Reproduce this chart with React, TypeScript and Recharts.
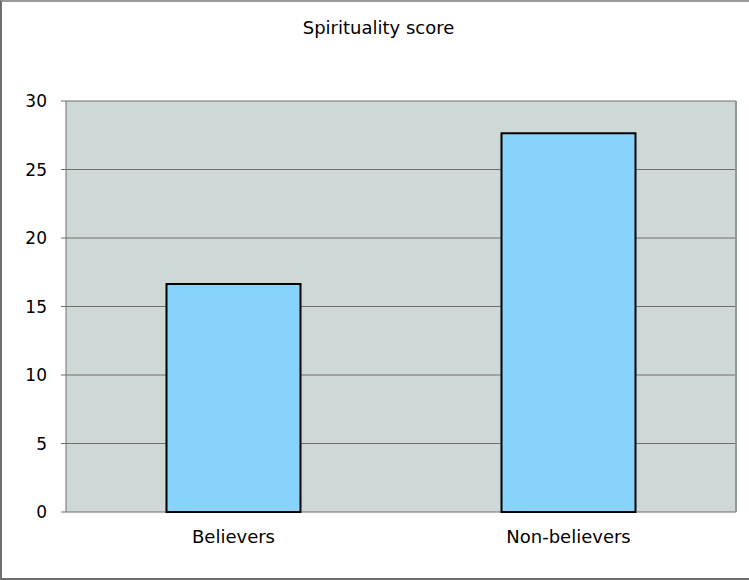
import React from "react";
import { Bar, BarChart, CartesianGrid, XAxis, YAxis } from "recharts";

const categories = ["Believers", "Non-believers"];
const scores = [16.65, 27.65];
const yTicks = [0, 5, 10, 15, 20, 25, 30];

const data = categories.map((name, i) => ({ name, score: scores[i] }));
const edgeTicks = categories.map((_, i) => i).concat(categories.length);

const font = "'DejaVu Sans', Verdana, sans-serif";

export default function App() {
  return (
    <div
      style={{
        position: "absolute",
        left: 0,
        top: 0,
        width: 749,
        height: 580,
        background: "#fff",
        fontFamily: font,
      }}
    >
      <div
        style={{
          position: "absolute",
          inset: 0,
          borderLeft: "2px solid #6f6f6f",
          borderBottom: "2px solid #6f6f6f",
          borderTop: "2px solid #9a9a9a",
          boxSizing: "border-box",
          pointerEvents: "none",
        }}
      />
      <div
        style={{
          position: "absolute",
          top: 17,
          left: 0,
          width: 757,
          textAlign: "center",
          fontSize: 18,
          color: "#000",
        }}
      >
        Spirituality score
      </div>
      <BarChart
        width={749}
        height={580}
        data={data}
        margin={{ top: 101, right: 13, bottom: 28, left: 16 }}
        barCategoryGap="30%"
      >
        <CartesianGrid
          xAxisId="cat"
          vertical={false}
          stroke="#6e6e6e"
          strokeWidth={1}
          fill="#ced8d7"
          fillOpacity={1}
        />
        <CartesianGrid
          xAxisId="cat"
          horizontal={false}
          stroke="#8f9999"
          strokeWidth={2}
          verticalCoordinatesGenerator={({ offset }: any) => [offset.left + offset.width]}
        />
        <XAxis
          xAxisId="edges"
          type="number"
          domain={[0, categories.length]}
          ticks={edgeTicks}
          tick={false}
          height={0}
          tickSize={5}
          stroke="#6e6e6e"
          tickLine={{ stroke: "#6e6e6e" }}
          allowDataOverflow
        />
        <XAxis
          xAxisId="cat"
          dataKey="name"
          height={40}
          axisLine={false}
          tickLine={false}
          tickMargin={12}
          tick={{ fill: "#000", fontSize: 18, fontFamily: font }}
        />
        <YAxis
          domain={[0, 30]}
          ticks={yTicks}
          width={50}
          tickSize={5}
          tickMargin={14}
          stroke="#6e6e6e"
          tick={{ fill: "#000", fontSize: 17, fontFamily: font }}
        />
        <Bar
          xAxisId="cat"
          dataKey="score"
          fill="#87d3fb"
          stroke="#000"
          strokeWidth={2}
          isAnimationActive={false}
        />
      </BarChart>
    </div>
  );
}
